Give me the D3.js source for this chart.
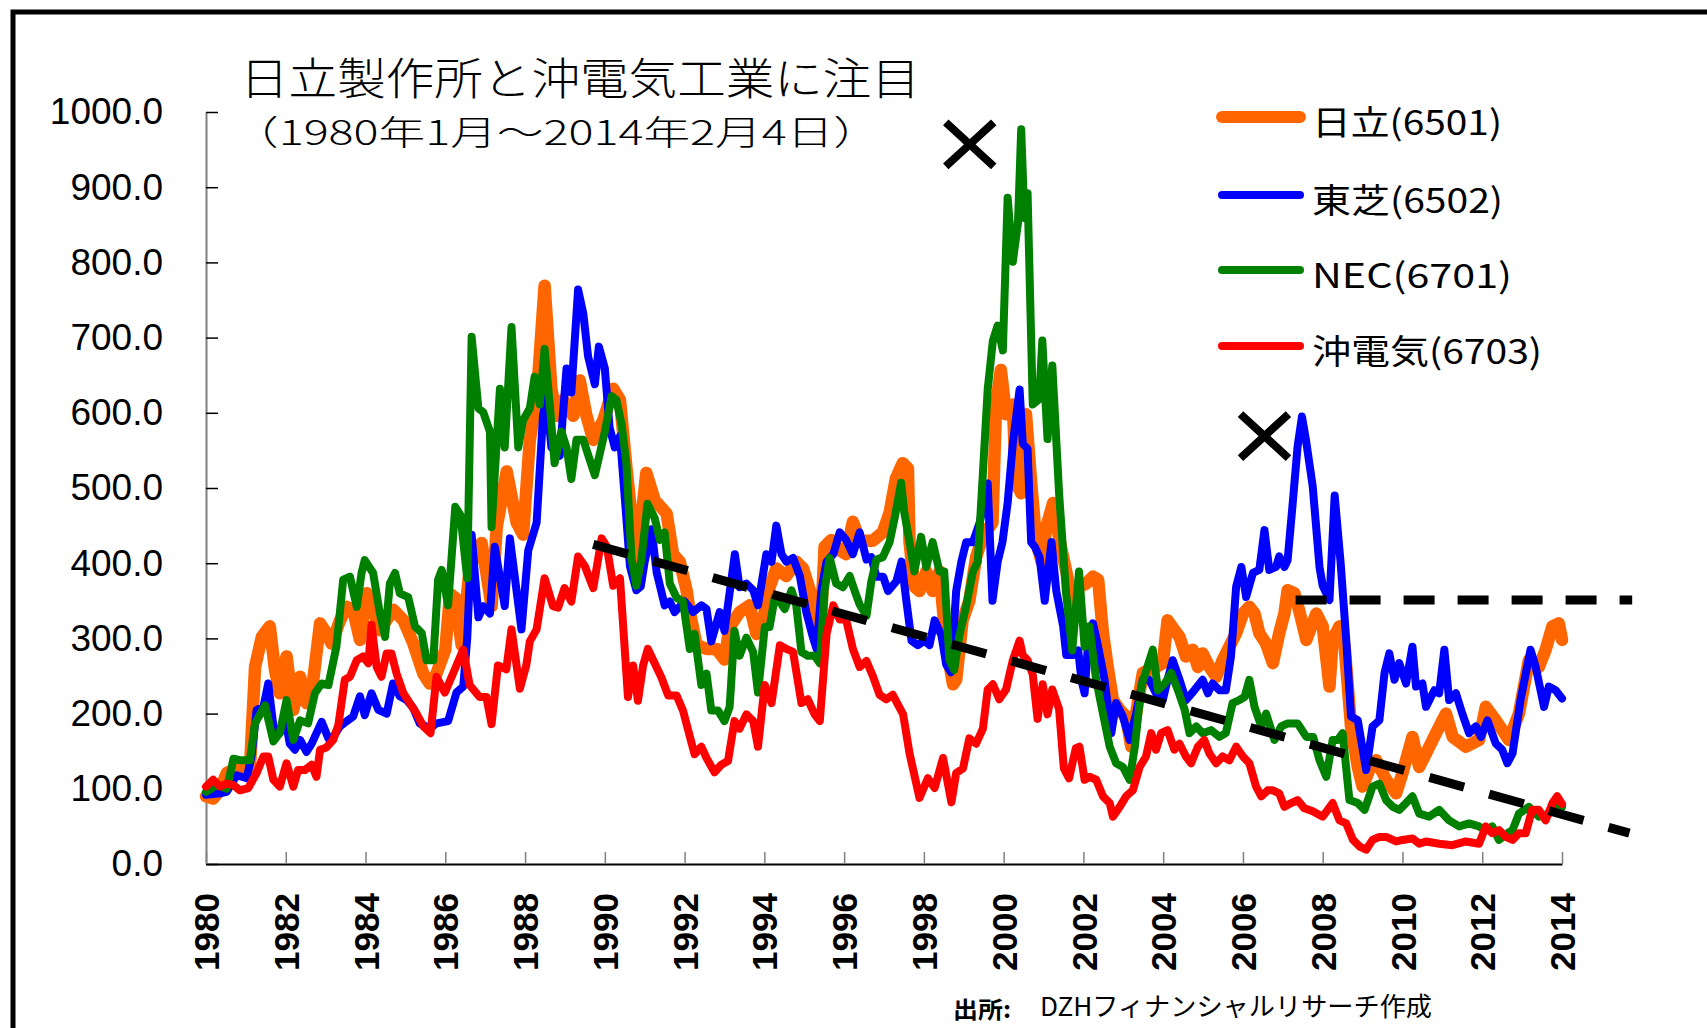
<!DOCTYPE html>
<html>
<head>
<meta charset="utf-8">
<script src="https://cdn.jsdelivr.net/npm/d3@7"></script>
<style>
  body { margin: 0; background: #fff; }
  svg { display: block; }
</style>
</head>
<body>
<script>
  // Monthly-ish closes: [year, price]
  const hitachi = [[1980.0,90],[1980.18,87],[1980.35,98],[1980.52,121],[1980.85,129],[1981.1,125],[1981.23,262],[1981.4,302],[1981.6,316],[1981.73,258],[1981.85,227],[1982.02,276],[1982.19,205],[1982.36,249],[1982.52,214],[1982.69,245],[1982.86,320],[1983.02,307],[1983.15,293],[1983.36,324],[1983.53,342],[1983.69,338],[1983.86,298],[1984.03,360],[1984.19,338],[1984.36,311],[1984.7,338],[1984.95,324],[1985.2,293],[1985.45,253],[1985.61,240],[1985.75,249],[1986.0,285],[1986.12,359],[1986.25,354],[1986.41,291],[1986.62,396],[1986.91,427],[1987.16,343],[1987.29,448],[1987.54,522],[1987.79,454],[1987.95,438],[1988.12,564],[1988.29,617],[1988.49,769],[1988.66,632],[1988.79,596],[1988.96,617],[1989.21,596],[1989.37,643],[1989.54,596],[1989.71,564],[1989.96,590],[1990.21,632],[1990.38,617],[1990.54,528],[1990.67,462],[1990.79,395],[1991.04,520],[1991.25,484],[1991.55,466],[1991.71,412],[1991.88,402],[1992.05,364],[1992.13,335],[1992.3,291],[1992.55,286],[1992.8,286],[1993.0,272],[1993.13,315],[1993.38,335],[1993.63,344],[1993.8,306],[1993.97,325],[1994.13,368],[1994.3,393],[1994.55,383],[1994.8,402],[1994.97,393],[1995.14,364],[1995.3,325],[1995.39,286],[1995.51,422],[1995.68,431],[1995.89,417],[1996.05,412],[1996.22,455],[1996.39,430],[1996.56,430],[1996.72,430],[1996.97,441],[1997.14,467],[1997.3,513],[1997.47,533],[1997.6,526],[1997.64,428],[1997.76,369],[1997.89,363],[1998.06,389],[1998.22,363],[1998.39,389],[1998.56,291],[1998.73,239],[1998.81,245],[1998.97,324],[1999.14,350],[1999.31,408],[1999.47,435],[1999.72,454],[1999.81,611],[1999.93,657],[2000.06,598],[2000.23,611],[2000.31,507],[2000.44,493],[2000.56,598],[2000.69,507],[2000.82,428],[2000.95,402],[2001.07,448],[2001.24,480],[2001.41,428],[2001.57,389],[2001.74,343],[2001.91,369],[2002.07,373],[2002.24,382],[2002.37,378],[2002.49,307],[2002.62,258],[2002.74,218],[2002.91,205],[2003.07,196],[2003.2,156],[2003.32,200],[2003.49,254],[2003.65,258],[2003.82,262],[2003.99,267],[2004.11,324],[2004.28,311],[2004.41,302],[2004.57,276],[2004.74,285],[2004.87,262],[2004.99,280],[2005.16,262],[2005.33,249],[2005.49,271],[2005.66,289],[2005.83,307],[2006.0,333],[2006.16,342],[2006.29,333],[2006.41,307],[2006.58,293],[2006.75,267],[2006.91,307],[2007.04,333],[2007.12,364],[2007.29,360],[2007.42,335],[2007.59,298],[2007.84,333],[2008.0,316],[2008.17,236],[2008.25,298],[2008.42,316],[2008.55,290],[2008.71,183],[2008.88,129],[2009.0,103],[2009.17,125],[2009.34,138],[2009.59,112],[2009.84,94],[2010.0,121],[2010.25,169],[2010.42,129],[2010.59,147],[2010.84,174],[2011.09,200],[2011.26,169],[2011.59,156],[2011.92,165],[2012.09,209],[2012.34,191],[2012.67,165],[2012.92,200],[2013.17,271],[2013.42,262],[2013.59,285],[2013.76,316],[2013.92,320],[2014.0,298]];

  const toshiba = [[1980.0,92],[1980.35,94],[1980.52,96],[1980.77,118],[1981.02,114],[1981.14,143],[1981.27,205],[1981.44,209],[1981.56,240],[1981.69,183],[1981.85,174],[1981.98,196],[1982.1,160],[1982.23,152],[1982.36,165],[1982.52,149],[1982.65,160],[1982.9,189],[1983.07,167],[1983.19,169],[1983.36,183],[1983.53,190],[1983.69,196],[1983.86,223],[1983.98,198],[1984.15,227],[1984.32,205],[1984.53,200],[1984.69,240],[1984.86,223],[1985.03,218],[1985.2,207],[1985.36,187],[1985.61,180],[1985.78,187],[1986.07,190],[1986.28,228],[1986.45,236],[1986.55,300],[1986.66,438],[1986.83,328],[1986.95,343],[1987.12,333],[1987.24,422],[1987.49,343],[1987.62,433],[1987.91,312],[1988.08,417],[1988.29,454],[1988.45,596],[1988.54,622],[1988.66,554],[1988.87,543],[1989.04,659],[1989.16,627],[1989.33,764],[1989.46,732],[1989.58,675],[1989.75,638],[1989.85,688],[1990.0,659],[1990.12,580],[1990.25,554],[1990.38,569],[1990.54,460],[1990.63,396],[1990.79,364],[1990.9,369],[1991.0,402],[1991.17,445],[1991.3,388],[1991.5,344],[1991.63,349],[1991.75,335],[1992.0,349],[1992.21,335],[1992.42,344],[1992.55,339],[1992.67,296],[1992.88,335],[1993.0,310],[1993.26,412],[1993.38,368],[1993.55,373],[1993.72,364],[1993.84,344],[1994.05,412],[1994.18,402],[1994.3,450],[1994.43,412],[1994.55,402],[1994.72,407],[1994.89,383],[1995.05,335],[1995.22,301],[1995.31,286],[1995.43,364],[1995.56,402],[1995.73,412],[1995.89,441],[1996.05,431],[1996.22,412],[1996.39,441],[1996.56,405],[1996.68,408],[1996.81,382],[1996.98,382],[1997.1,363],[1997.31,376],[1997.44,402],[1997.56,350],[1997.69,297],[1997.85,291],[1998.02,297],[1998.14,291],[1998.27,324],[1998.44,304],[1998.56,265],[1998.68,255],[1998.81,363],[1998.94,402],[1999.06,428],[1999.23,428],[1999.4,454],[1999.6,506],[1999.72,350],[1999.85,402],[1999.97,428],[2000.1,480],[2000.23,559],[2000.4,631],[2000.48,559],[2000.6,552],[2000.69,428],[2000.78,422],[2000.9,408],[2001.03,350],[2001.2,428],[2001.32,363],[2001.49,317],[2001.57,278],[2001.74,278],[2001.87,284],[2001.95,245],[2002.03,227],[2002.11,289],[2002.24,320],[2002.37,289],[2002.53,245],[2002.7,174],[2002.82,214],[2002.99,196],[2003.16,165],[2003.32,200],[2003.49,245],[2003.65,245],[2003.82,227],[2003.99,218],[2004.11,245],[2004.24,271],[2004.41,245],[2004.57,218],[2004.78,231],[2004.99,245],[2005.12,227],[2005.24,240],[2005.41,231],[2005.57,231],[2005.7,276],[2005.83,369],[2005.96,395],[2006.08,355],[2006.25,387],[2006.41,391],[2006.54,444],[2006.66,391],[2006.83,395],[2006.91,409],[2007.04,395],[2007.12,404],[2007.24,475],[2007.37,555],[2007.48,595],[2007.58,564],[2007.75,502],[2007.92,395],[2008.0,370],[2008.17,351],[2008.3,490],[2008.45,400],[2008.59,298],[2008.71,196],[2008.88,191],[2009.09,125],[2009.25,183],[2009.42,191],[2009.55,254],[2009.67,280],[2009.8,245],[2009.92,267],[2010.09,240],[2010.25,289],[2010.34,236],[2010.5,240],[2010.59,209],[2010.8,231],[2010.92,227],[2011.05,285],[2011.17,218],[2011.34,227],[2011.5,200],[2011.67,174],[2011.84,183],[2011.97,169],[2012.13,191],[2012.34,160],[2012.5,152],[2012.63,134],[2012.76,147],[2012.96,218],[2013.21,285],[2013.34,262],[2013.55,209],[2013.67,236],[2013.84,231],[2014.0,220]];

  const nec = [[1980.0,96],[1980.27,105],[1980.52,100],[1980.69,140],[1980.85,138],[1981.1,138],[1981.23,187],[1981.48,211],[1981.69,163],[1981.85,174],[1982.02,218],[1982.19,165],[1982.36,191],[1982.56,187],[1982.73,227],[1982.9,240],[1983.07,238],[1983.27,289],[1983.44,378],[1983.61,382],[1983.78,342],[1983.9,387],[1983.98,404],[1984.19,387],[1984.36,333],[1984.49,302],[1984.61,373],[1984.74,387],[1984.86,360],[1985.07,355],[1985.24,316],[1985.41,307],[1985.53,271],[1985.7,271],[1985.82,378],[1985.91,391],[1986.07,344],[1986.25,475],[1986.38,464],[1986.55,380],[1986.66,701],[1986.83,606],[1986.95,601],[1987.12,575],[1987.16,448],[1987.37,632],[1987.49,554],[1987.66,714],[1987.83,554],[1987.95,590],[1988.12,606],[1988.24,648],[1988.37,611],[1988.49,685],[1988.62,611],[1988.74,533],[1988.91,575],[1989.04,554],[1989.16,512],[1989.29,564],[1989.46,564],[1989.62,538],[1989.75,517],[1989.91,554],[1990.0,575],[1990.17,622],[1990.29,617],[1990.42,585],[1990.54,533],[1990.67,406],[1990.79,370],[1990.92,406],[1991.07,479],[1991.25,460],[1991.38,431],[1991.5,441],[1991.63,373],[1991.8,354],[1991.96,349],[1992.13,286],[1992.25,306],[1992.42,238],[1992.55,253],[1992.67,204],[1992.84,204],[1993.0,190],[1993.13,209],[1993.25,310],[1993.38,277],[1993.55,301],[1993.72,282],[1993.84,228],[1994.01,315],[1994.13,315],[1994.26,354],[1994.38,349],[1994.51,339],[1994.68,364],[1994.8,344],[1994.93,282],[1995.09,277],[1995.26,277],[1995.39,267],[1995.51,364],[1995.64,407],[1995.8,373],[1995.97,368],[1996.14,383],[1996.26,364],[1996.39,345],[1996.56,330],[1996.68,375],[1996.81,405],[1996.97,408],[1997.14,428],[1997.27,461],[1997.43,507],[1997.51,467],[1997.64,428],[1997.76,389],[1997.93,435],[1998.06,395],[1998.22,428],[1998.39,389],[1998.51,389],[1998.64,271],[1998.76,258],[1998.89,304],[1999.06,343],[1999.23,389],[1999.35,402],[1999.48,520],[1999.6,631],[1999.73,696],[1999.85,716],[1999.98,683],[2000.1,886],[2000.23,801],[2000.36,853],[2000.44,977],[2000.52,859],[2000.6,892],[2000.73,611],[2000.89,618],[2000.97,696],[2001.1,565],[2001.22,663],[2001.39,493],[2001.56,363],[2001.72,284],[2001.89,389],[2002.03,289],[2002.15,316],[2002.32,245],[2002.49,200],[2002.66,156],[2002.82,134],[2002.99,129],[2003.16,112],[2003.29,156],[2003.45,236],[2003.58,258],[2003.74,285],[2003.87,231],[2004.04,240],[2004.2,254],[2004.37,231],[2004.54,205],[2004.66,174],[2004.83,183],[2004.99,174],[2005.2,178],[2005.41,169],[2005.57,174],[2005.74,214],[2005.91,218],[2006.04,222],[2006.16,245],[2006.29,209],[2006.46,183],[2006.58,200],[2006.79,165],[2006.96,183],[2007.12,187],[2007.37,187],[2007.59,169],[2007.76,169],[2007.92,138],[2008.09,116],[2008.25,165],[2008.38,165],[2008.5,174],[2008.67,85],[2008.88,81],[2009.05,72],[2009.25,103],[2009.42,107],[2009.59,85],[2009.76,76],[2009.92,72],[2010.09,81],[2010.25,90],[2010.42,67],[2010.67,63],[2010.92,72],[2011.17,58],[2011.42,50],[2011.67,54],[2011.92,50],[2012.09,45],[2012.25,50],[2012.42,32],[2012.63,41],[2012.76,45],[2012.92,67],[2013.17,76],[2013.42,63],[2013.67,67],[2013.84,76],[2014.0,76]];

  const oki = [[1980.0,103],[1980.18,112],[1980.35,103],[1980.52,107],[1980.69,105],[1980.85,98],[1981.06,101],[1981.27,121],[1981.44,143],[1981.56,143],[1981.69,112],[1981.85,103],[1982.02,134],[1982.19,103],[1982.31,125],[1982.48,125],[1982.65,132],[1982.77,116],[1982.86,152],[1983.02,155],[1983.19,165],[1983.32,185],[1983.48,245],[1983.61,249],[1983.78,271],[1983.94,276],[1984.07,267],[1984.15,318],[1984.28,262],[1984.4,249],[1984.53,280],[1984.65,280],[1984.78,253],[1984.95,227],[1985.11,214],[1985.28,200],[1985.45,183],[1985.63,174],[1985.78,249],[1985.99,228],[1986.2,254],[1986.45,285],[1986.61,238],[1986.86,222],[1987.03,222],[1987.16,186],[1987.32,264],[1987.53,259],[1987.66,312],[1987.87,233],[1988.03,264],[1988.12,296],[1988.29,312],[1988.49,380],[1988.7,343],[1988.83,341],[1988.99,367],[1989.16,349],[1989.33,409],[1989.5,396],[1989.71,367],[1989.92,433],[1990.05,422],[1990.21,370],[1990.38,380],[1990.58,222],[1990.71,264],[1990.83,217],[1990.96,264],[1991.08,286],[1991.25,267],[1991.42,248],[1991.59,224],[1991.8,224],[1991.96,204],[1992.13,170],[1992.25,146],[1992.42,156],[1992.55,141],[1992.75,122],[1992.92,132],[1993.09,137],[1993.25,190],[1993.38,180],[1993.55,199],[1993.72,190],[1993.84,156],[1994.01,238],[1994.18,214],[1994.39,291],[1994.55,286],[1994.72,282],[1994.93,214],[1995.09,219],[1995.26,199],[1995.39,190],[1995.56,306],[1995.73,344],[1995.89,325],[1996.05,325],[1996.22,286],[1996.39,262],[1996.56,270],[1996.72,250],[1996.89,225],[1997.06,219],[1997.22,225],[1997.48,199],[1997.64,147],[1997.89,88],[1998.1,114],[1998.27,101],[1998.48,141],[1998.69,82],[1998.81,121],[1998.98,127],[1999.14,167],[1999.31,160],[1999.48,180],[1999.6,232],[1999.73,239],[1999.89,219],[2000.06,232],[2000.23,271],[2000.4,297],[2000.48,278],[2000.6,271],[2000.73,252],[2000.85,193],[2000.98,239],[2001.1,199],[2001.22,232],[2001.39,206],[2001.51,127],[2001.64,114],[2001.81,154],[2001.9,156],[2002.03,112],[2002.15,116],[2002.32,112],[2002.49,90],[2002.66,81],[2002.74,63],[2002.91,76],[2003.07,90],[2003.24,98],[2003.41,129],[2003.57,143],[2003.7,174],[2003.82,152],[2003.95,174],[2004.11,178],[2004.28,152],[2004.41,160],[2004.57,143],[2004.7,134],[2004.87,156],[2005.03,165],[2005.16,147],[2005.33,134],[2005.49,143],[2005.66,138],[2005.83,156],[2006.0,143],[2006.16,134],[2006.33,103],[2006.46,90],[2006.62,98],[2006.75,98],[2006.91,94],[2007.04,76],[2007.21,81],[2007.37,85],[2007.54,74],[2007.75,70],[2007.92,65],[2008.0,63],[2008.25,81],[2008.42,58],[2008.59,54],[2008.76,32],[2008.93,23],[2009.09,19],[2009.25,32],[2009.42,36],[2009.59,36],[2009.84,30],[2010.0,32],[2010.25,34],[2010.42,27],[2010.59,30],[2010.92,27],[2011.25,25],[2011.59,30],[2011.92,27],[2012.09,50],[2012.25,41],[2012.42,45],[2012.59,36],[2012.76,32],[2012.92,41],[2013.09,41],[2013.25,72],[2013.42,72],[2013.59,58],[2013.76,81],[2013.88,90],[2014.0,80]];

  const seriesLabels = ["日立(6501)", "東芝(6502)", "NEC(6701)", "沖電気(6703)"];
  const seriesColors = ["#ff6600", "#0000ff", "#008000", "#ff0000"];
  const yTicks = [0, 100, 200, 300, 400, 500, 600, 700, 800, 900, 1000];
  const xTicks = [1980, 1982, 1984, 1986, 1988, 1990, 1992, 1994, 1996, 1998, 2000, 2002, 2004, 2006, 2008, 2010, 2012, 2014];

  // hand-drawn annotations, in data units
  const trendLine = [[1989.71, 425], [2015.69, 41]];
  const flatLine = [[2007.32, 351], [2015.76, 351]];
  const crossMarks = [[1999.15, 957], [2006.54, 569]];

  const width = 1707;
  const height = 1028;
  const jp = "'Noto Sans CJK JP', 'Noto Sans', sans-serif";
  const num = "'Liberation Sans', Arial, sans-serif";

  const svg = d3.select("body")
    .append("svg")
    .attr("width", width)
    .attr("height", height);

  // outer frame (runs off the right and bottom edges)
  svg.append("rect")
    .attr("x", 13).attr("y", 12)
    .attr("width", width + 20).attr("height", height + 40)
    .attr("fill", "none")
    .attr("stroke", "#000")
    .attr("stroke-width", 5);

  const x = d3.scaleLinear().domain([1980, 2014]).range([206, 1562]);
  const y = d3.scaleLinear().domain([0, 1000]).range([864, 112]);

  // y axis
  const yAxis = svg.append("g")
    .attr("transform", `translate(${x(1980)},0)`)
    .call(d3.axisLeft(y)
      .tickValues(yTicks)
      .tickFormat(d3.format(".1f"))
      .tickSizeInner(-12)
      .tickSizeOuter(0)
      .tickPadding(43));
  yAxis.select(".domain").attr("stroke", "#808080").attr("stroke-width", 2);
  yAxis.selectAll(".tick line").attr("stroke", "#000").attr("stroke-width", 1.5);
  yAxis.selectAll(".tick text")
    .attr("font-family", num)
    .attr("font-size", 37)
    .attr("fill", "#000");

  // x axis
  const xAxis = svg.append("g")
    .attr("transform", `translate(0,${y(0)})`)
    .call(d3.axisBottom(x)
      .tickValues(xTicks)
      .tickFormat(d3.format("d"))
      .tickSizeInner(-12)
      .tickSizeOuter(0));
  xAxis.select(".domain").attr("stroke", "#000").attr("stroke-width", 2);
  xAxis.selectAll(".tick line").attr("stroke", "#808080").attr("stroke-width", 1.5);
  xAxis.selectAll(".tick text")
    .attr("transform", "rotate(-90)")
    .attr("text-anchor", "end")
    .attr("x", -29)
    .attr("y", 0)
    .attr("dy", "0.36em")
    .attr("font-family", num)
    .attr("font-weight", "bold")
    .attr("font-size", 35)
    .attr("fill", "#000");

  // price lines
  const line = d3.line()
    .x(d => x(d[0]))
    .y(d => y(d[1]));

  const series = [
    { data: hitachi, width: 12.5 },
    { data: toshiba, width: 8 },
    { data: nec, width: 8 },
    { data: oki, width: 8 },
  ];

  series.forEach((s, i) => {
    svg.append("path")
      .datum(s.data)
      .attr("d", line)
      .attr("fill", "none")
      .attr("stroke", seriesColors[i])
      .attr("stroke-width", s.width)
      .attr("stroke-linejoin", "round")
      .attr("stroke-linecap", "round");
  });

  // dashed guide lines
  svg.append("path")
    .datum(trendLine)
    .attr("d", line)
    .attr("stroke", "#000")
    .attr("stroke-width", 9)
    .attr("stroke-dasharray", "36,26");

  svg.append("path")
    .datum(flatLine)
    .attr("d", line)
    .attr("stroke", "#000")
    .attr("stroke-width", 9)
    .attr("stroke-dasharray", "31,23");

  // cross marks
  svg.selectAll(".cross")
    .data(crossMarks)
    .enter()
    .append("path")
    .attr("class", "cross")
    .attr("transform", d => `translate(${x(d[0])},${y(d[1])})`)
    .attr("d", "M-24,-22L24,22M-24,22L24,-22")
    .attr("stroke", "#000")
    .attr("stroke-width", 8);

  // legend
  const legendY = [117, 195, 270, 346];
  const legendLen = [190, 191, 200, 230];
  const legend = svg.append("g");
  seriesLabels.forEach((name, i) => {
    legend.append("line")
      .attr("x1", 1222).attr("x2", 1300)
      .attr("y1", legendY[i]).attr("y2", legendY[i])
      .attr("stroke", seriesColors[i])
      .attr("stroke-width", i === 0 ? 12 : 8)
      .attr("stroke-linecap", "round");
    legend.append("text")
      .attr("x", 1312)
      .attr("y", legendY[i] + 3)
      .attr("dominant-baseline", "central")
      .attr("font-family", jp)
      .attr("font-size", 34)
      .attr("textLength", legendLen[i])
      .attr("lengthAdjust", "spacingAndGlyphs")
      .text(name);
  });

  // titles
  svg.append("text")
    .attr("x", 240)
    .attr("y", 76)
    .attr("dominant-baseline", "central")
    .attr("font-family", jp)
    .attr("font-weight", 300)
    .attr("font-size", 44)
    .attr("textLength", 680)
    .attr("lengthAdjust", "spacingAndGlyphs")
    .text("日立製作所と沖電気工業に注目");

  svg.append("text")
    .attr("x", 232)
    .attr("y", 130)
    .attr("dominant-baseline", "central")
    .attr("font-family", jp)
    .attr("font-weight", 300)
    .attr("font-size", 34)
    .attr("textLength", 648)
    .attr("lengthAdjust", "spacingAndGlyphs")
    .text("（1980年1月～2014年2月4日）");

  // source note
  svg.append("text")
    .attr("x", 953)
    .attr("y", 1018)
    .attr("font-family", jp)
    .attr("font-weight", "bold")
    .attr("font-size", 23)
    .attr("textLength", 58)
    .attr("lengthAdjust", "spacingAndGlyphs")
    .text("出所:");

  svg.append("text")
    .attr("x", 1040)
    .attr("y", 1016)
    .attr("font-family", jp)
    .attr("font-size", 26)
    .attr("textLength", 392)
    .attr("lengthAdjust", "spacingAndGlyphs")
    .text("DZHフィナンシャルリサーチ作成");
</script>
</body>
</html>
